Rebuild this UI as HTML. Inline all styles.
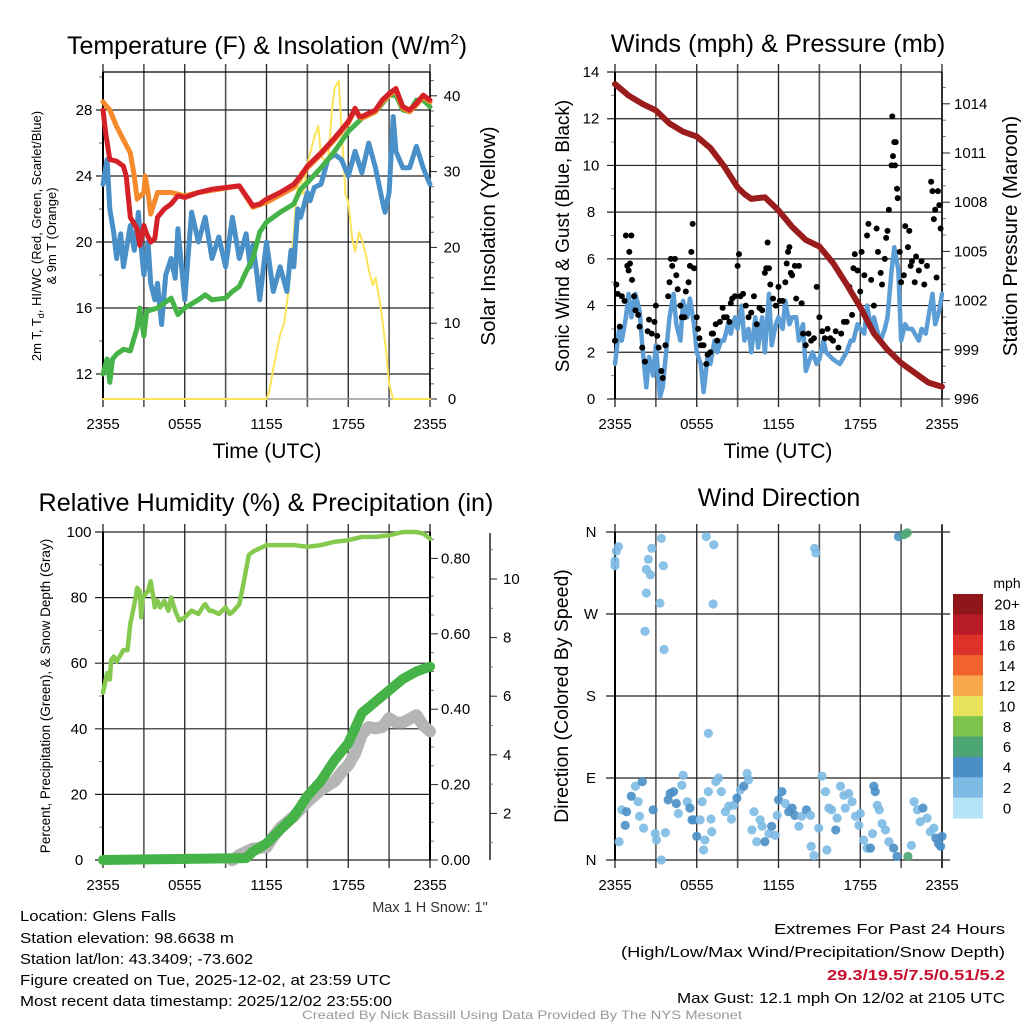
<!DOCTYPE html>
<html><head><meta charset="utf-8"><style>
html,body{margin:0;padding:0;background:#fff;}
svg{display:block;font-family:"Liberation Sans",sans-serif;}
</style></head><body>
<svg id="fig" width="1024" height="1024" viewBox="0 0 1024 1024" xmlns="http://www.w3.org/2000/svg">
<rect x="0" y="0" width="1024" height="1024" fill="#fff"/>
<text x="267" y="54" font-size="25" text-anchor="middle">Temperature (F) &amp; Insolation (W/m<tspan dy="-10" font-size="15">2</tspan><tspan dy="10">)</tspan></text>
<text x="778" y="52" font-size="25.3" text-anchor="middle">Winds (mph) &amp; Pressure (mb)</text>
<text x="266" y="511" font-size="25.2" text-anchor="middle">Relative Humidity (%) &amp; Precipitation (in)</text>
<text x="779" y="506" font-size="25" text-anchor="middle">Wind Direction</text>
<text x="267" y="458" font-size="21" text-anchor="middle">Time (UTC)</text>
<text x="778" y="458" font-size="21" text-anchor="middle">Time (UTC)</text>
<text transform="translate(41,236) rotate(-90)" font-size="13" text-anchor="middle">2m T, T<tspan dy="3" font-size="9">d</tspan><tspan dy="-3">, HI/WC (Red, Green, Scarlet/Blue)</tspan></text>
<text transform="translate(56,236) rotate(-90)" font-size="13" text-anchor="middle">&amp; 9m T (Orange)</text>
<text transform="translate(495,236) rotate(-90)" font-size="20.5" text-anchor="middle">Solar Insolation (Yellow)</text>
<text transform="translate(569,236) rotate(-90)" font-size="19" text-anchor="middle">Sonic Wind &amp; Gust (Blue, Black)</text>
<text transform="translate(1017,236) rotate(-90)" font-size="20.5" text-anchor="middle">Station Pressure (Maroon)</text>
<text transform="translate(50,696) rotate(-90)" font-size="13.5" text-anchor="middle">Percent, Precipitation (Green), &amp; Snow Depth (Gray)</text>
<text transform="translate(568,696) rotate(-90)" font-size="19.5" text-anchor="middle">Direction (Colored By Speed)</text>
<text x="1007" y="588" font-size="14" text-anchor="middle">mph</text>
<text x="430" y="912" font-size="14.5" text-anchor="middle" fill="#333">Max 1 H Snow: 1"</text>
<g font-size="15">
<text x="20" y="921" textLength="156" lengthAdjust="spacingAndGlyphs">Location: Glens Falls</text>
<text x="20" y="943" textLength="214" lengthAdjust="spacingAndGlyphs">Station elevation: 98.6638 m</text>
<text x="20" y="964" textLength="233" lengthAdjust="spacingAndGlyphs">Station lat/lon: 43.3409; -73.602</text>
<text x="20" y="985" textLength="371" lengthAdjust="spacingAndGlyphs">Figure created on Tue, 2025-12-02, at 23:59 UTC</text>
<text x="20" y="1006" textLength="372" lengthAdjust="spacingAndGlyphs">Most recent data timestamp: 2025/12/02 23:55:00</text>
</g>
<g font-size="15" text-anchor="end">
<text x="1005" y="934" textLength="231" lengthAdjust="spacingAndGlyphs">Extremes For Past 24 Hours</text>
<text x="1005" y="957" textLength="384" lengthAdjust="spacingAndGlyphs">(High/Low/Max Wind/Precipitation/Snow Depth)</text>
<text x="1005" y="980" font-weight="bold" fill="#c8102e" textLength="178" lengthAdjust="spacingAndGlyphs">29.3/19.5/7.5/0.51/5.2</text>
<text x="1005" y="1003" textLength="328" lengthAdjust="spacingAndGlyphs">Max Gust: 12.1 mph On 12/02 at 2105 UTC</text>
</g>
<text x="522" y="1019" font-size="12" fill="#999" text-anchor="middle" textLength="440" lengthAdjust="spacingAndGlyphs">Created By Nick Bassill Using Data Provided By The NYS Mesonet</text>
</svg>
<script>
// ---------- data ----------
const timeLabels = ["2355","0555","1155","1755","2355"];
// Panel 1
const tT = [0,0.2,0.5,1,1.5,1.7,2,2.5,2.7,3,3.2,3.5,3.8,4,4.5,5,5.5,6,7,8,9,10,10.5,11,11.5,12,13,14,14.5,15,16,17,18,18.5,18.8,19,20,20.5,21,21.5,22,22.5,23,23.5,24];
const tempRed = [28,26.6,25,24.9,24.6,24,21.5,20.8,19.8,21,20.5,20,20.2,21.5,22,22.3,22.8,22.7,23,23.2,23.3,23.4,22.8,22.2,22.3,22.6,23,23.5,24,24.6,25.4,26.3,27.3,28.1,27.6,27.6,28,28.6,29,29.3,28.2,28,28.4,28.9,28.6];
const tO = [0,0.5,1,1.5,2,2.3,2.5,3,3.1,3.3,3.5,4,5,6,7,10,11,12,14,14.5,15,16,17,18,18.5,19,20,20.5,21,21.5,22,22.5,23,23.5,24];
const temp9m = [28.5,28,27,26.2,25.4,24,22.6,23,24,23,21.7,23,23,22.8,23,23.4,22.1,22.4,23.3,23.9,24.5,25.3,26.2,27.2,28,27.5,27.9,28.5,28.9,29.2,28.1,27.9,28.3,28.8,28.5];
const tG = [0,0.3,0.5,0.7,1,1.5,2,2.5,2.7,3,3.2,4,4.5,5,5.5,6,7,7.5,8,9,9.5,10,10.5,11,11.5,12,13,14,14.5,15,16,17,18,19,20,21,21.5,22,22.5,23,23.5,24];
const dewpoint = [12,12.9,11.5,12.9,13.2,13.5,13.4,14.8,16,14.3,15.8,16,16.3,16.6,15.6,16,16.5,16.8,16.5,16.6,17,17.3,18.2,19,20.6,21.2,21.8,22.3,23.2,23.6,24.5,25.5,26.7,27.5,27.9,28.9,28.9,28,27.9,28.6,28.6,28.2];
const tB = [0,0.3,0.5,0.8,1,1.3,1.5,2,2.3,2.6,2.8,3,3.3,3.5,3.8,4,4.3,4.6,5,5.3,5.5,6,6.3,6.5,7,7.5,8,8.5,9,9.5,10,10.5,10.8,11,11.3,11.5,12,12.5,13,13.5,13.8,14,14.3,14.5,15,15.2,15.5,16,16.5,17,17.5,18,18.5,19,19.5,20,20.5,20.7,21,21.3,21.5,22,22.5,23,23.5,24];
const windChill = [23.5,25,22,20.5,19,20.5,18.5,21,19.5,21.8,19.6,18,20,17.5,16.5,17.5,15,18,19,17.8,20.8,16.5,19.7,21.8,20,21.5,19,20.3,18.5,21.5,19,20.5,18.5,19.8,18,16.5,20,17,18.5,17,19.5,18.5,22,21.5,23,22.5,23.3,23.5,25,25.3,25,24,25.5,24.2,26,24.5,22.5,21.8,23,27.6,25.5,24.5,24.5,25.8,24.5,23.5];
const tS = [0,12,12.2,12.5,13,13.3,13.6,14,14.2,14.5,14.7,15,15.5,15.8,16,16.5,16.8,17,17.3,17.5,17.8,18,18.3,18.5,18.8,19,19.3,19.5,19.8,20,20.3,20.5,20.8,21,21.3,24];
const insolation = [0,0,1,4,8.5,10,14,22,27,30,27,31,34.5,36,32,31,38,41,42,36,27,26,21,19.5,22,21,19,17,15,16,13,10.5,6,2,0,0];
const tempTicks = [12,16,20,24,28];
const solarTicks = [0,10,20,30,40];
// Panel 2
const tP = [0,1,2,3,4,5,6,7,8,9,9.5,10,11,12,13,14,15,16,17,18,19,20,21,22,23,24];
const pressure = [1015.2,1014.5,1014.0,1013.6,1012.8,1012.3,1012.0,1011.3,1010.2,1008.9,1008.5,1008.2,1008.3,1007.5,1006.5,1005.7,1005.3,1004.3,1003.0,1001.6,1000.0,999.0,998.2,997.6,997.0,996.75];
const tW = [0,0.3,0.5,0.8,1,1.2,1.5,1.8,2,2.3,2.5,2.8,3,3.3,3.5,3.8,4,4.3,4.5,4.8,5,5.3,5.5,5.8,6,6.3,6.5,6.8,7,7.3,7.5,7.8,8,8.3,8.5,8.8,9,9.3,9.5,9.8,10,10.3,10.5,10.8,11,11.3,11.5,11.8,12,12.3,12.5,12.8,13,13.3,13.5,13.8,14,14.3,14.5,14.8,15,15.3,15.5,16,16.5,17,17.3,17.5,17.8,18,18.3,18.5,18.8,19,19.3,19.5,19.8,20,20.3,20.5,20.8,21,21.3,21.5,21.8,22,22.3,22.5,22.8,23,23.3,23.5,23.8,24];
const sonicWind = [1.5,3,2.5,3.5,4.5,3.5,4.5,3.8,2.3,0.5,1.8,1,2.3,0.1,0.5,2.3,3.5,4.5,3.2,2.5,4.2,3.5,4.3,3.2,2,1.5,0.3,1.8,1.5,2.5,2,2.5,2.5,3.2,2.8,3.5,3,4,2.5,3,2,3.5,2.2,3.5,2,4.5,2.3,3.2,3.5,3,4.2,3.2,3.5,3.5,2.5,3.2,1.2,1.7,2,1.5,1.7,2.5,2,1.7,1.5,2,2.5,2.5,3.2,3,2.8,4,3,3.5,2.8,2.5,3,3.5,5.5,6.5,5.5,2.5,3.2,3,3,2.8,2.5,3,2.8,3.5,4.5,3.2,3.8,4.5];
const gustT = [0,0.1,0.2,0.35,0.5,0.7,0.8,0.9,1.0,1.05,1.1,1.2,1.25,1.4,1.5,1.7,1.8,2.0,2.2,2.4,2.5,2.7,2.9,3.0,3.1,3.2,3.4,3.5,3.7,3.9,4.0,4.1,4.2,4.4,4.5,4.6,4.8,4.9,5.1,5.2,5.4,5.5,5.6,5.7,5.8,6.0,6.1,6.2,6.3,6.5,6.7,6.8,7.0,7.1,7.2,7.4,7.5,7.7,7.9,8.0,8.2,8.4,8.5,8.6,8.8,9.0,9.1,9.2,9.4,9.6,9.8,10.0,10.2,10.4,10.6,10.8,11.0,11.1,11.2,11.3,11.4,11.6,11.8,12.0,12.1,12.3,12.5,12.6,12.7,12.8,12.9,13.0,13.2,13.3,13.5,13.7,13.8,14.0,14.2,14.4,14.6,14.8,15.0,15.2,15.4,15.6,15.8,16.0,16.2,16.4,16.6,16.8,17.0,17.2,17.4,17.5,17.6,17.8,18.0,18.1,18.3,18.5,18.6,18.8,19.0,19.2,19.3,19.5,19.6,19.8,19.9,20.0,20.1,20.3,20.35,20.4,20.5,20.55,20.6,20.7,20.75,20.9,21.0,21.2,21.3,21.5,21.6,21.7,21.8,22.0,22.1,22.3,22.5,22.7,22.9,23.2,23.3,23.4,23.5,23.6,23.7,23.8,23.9];
const gustV = [2.5,4.9,4.5,3.1,4.4,4.2,7.0,5.7,5.5,6.3,5.8,7.0,5.1,4.4,3.8,3.6,3.1,2.2,1.6,2.9,3.4,2.8,3.3,4.0,2.7,2.2,1.2,0.9,2.3,4.4,5.0,6.0,5.7,6.0,5.3,4.7,4.0,3.5,3.5,4.6,5.0,5.7,6.3,7.5,5.6,3.5,3.0,2.6,2.3,2.3,1.5,1.9,2.0,2.8,2.8,3.2,2.5,3.3,3.9,3.5,3.5,3.3,4.1,4.3,4.4,5.7,6.2,4.4,4.5,4.0,3.5,3.7,4.4,3.2,3.9,3.8,5.4,5.6,6.7,5.6,4.9,4.3,4.0,4.8,4.2,4.2,5.0,5.8,6.3,6.5,5.4,5.3,5.7,4.3,5.7,4.1,2.8,2.3,2.8,2.5,2.6,4.8,3.5,2.9,2.6,3.0,2.6,2.5,2.9,2.2,2.8,3.3,3.3,4.8,3.6,5.6,6.2,5.5,4.6,6.3,5.3,7.0,7.5,5.1,4.0,7.3,6.3,5.4,4.9,6.0,6.9,7.2,8.1,10.0,12.1,10.4,11.0,10.0,11.0,9.0,8.6,6.3,5.0,5.3,7.4,6.5,7.2,5.7,5.9,5.0,6.1,5.5,5.9,4.9,5.7,9.3,8.9,7.7,8.1,5.2,8.9,8.3,7.3];
const windTicks = [0,2,4,6,8,10,12,14];
const pressTicks = [996,999,1002,1005,1008,1011,1014];
// Panel 3
const tRH = [0,0.3,0.5,0.6,0.8,1,1.5,1.8,2,2.2,2.4,2.5,2.7,2.8,2.9,3.3,3.5,3.7,3.8,4,4.2,4.5,4.8,5,5.3,5.6,6,6.5,7,7.3,7.5,7.8,8,8.5,9,9.3,9.6,10,10.3,10.7,11,11.5,12,13,14,15,16,17,18,19,20,21,22,23,23.5,24];
const relHum = [51,57,55,61,62,60.5,64,64,72,76,80,83,82,74,80,82,85,80,77,79,77,79,76,80,76,73,74,76,75,77,78,76,76,75,77,75,76,78,84,93,94,95,96,96,96,95.5,96,97,97.5,98.5,98.5,99,100,100,99.5,98];
const tPr = [0,10.5,11,12,13,14,15,16,17,18,19,20,21,22,23,24];
const precip = [0,0.005,0.022,0.044,0.08,0.115,0.17,0.21,0.265,0.31,0.39,0.42,0.45,0.48,0.5,0.513];
const tSn = [9.5,10,11,12,12.5,13,14,15,16,17,17.5,18,18.5,19,19.5,20,20.5,21,21.5,22,23,23.5,24];
const snowDepth = [0.4,0.58,0.8,0.85,1.2,1.5,1.9,2.4,2.8,3.1,3.4,3.65,4.05,4.7,4.95,4.9,4.95,5.25,5.1,5.1,5.35,5.0,4.8];
const rhTicks = [0,20,40,60,80,100];
const precipTicks = [0,0.2,0.4,0.6,0.8];
const precipLabels = ["0.00","0.20","0.40","0.60","0.80"];
const snowTicks = [2,4,6,8,10];
// Panel 4
const dirT = [0.25,0.1,0,0,0.3,0.5,0.75,0.85,1.2,1.5,1.7,1.8,2.0,2.1,2.2,2.3,2.3,2.45,2.6,2.7,2.8,2.95,3.05,3.3,3.4,3.4,3.55,3.6,3.7,3.9,4.05,4.3,4.5,4.65,4.9,5.0,5.3,5.5,5.65,5.8,6.0,6.25,6.4,6.5,6.6,6.7,6.85,6.85,7.05,7.1,7.2,7.25,7.4,7.6,7.8,8.1,8.35,8.55,8.7,8.95,9.2,9.45,9.7,9.8,10.05,10.2,10.4,10.65,10.8,11.0,11.3,11.5,11.75,11.9,12.0,12.25,12.5,12.75,13.0,13.2,13.5,13.7,14.05,14.35,14.4,14.6,14.65,14.75,14.95,15.2,15.45,15.55,15.7,15.9,16.2,16.3,16.55,16.8,16.9,17.15,17.4,17.65,17.9,18.0,18.25,18.5,18.75,18.9,19.0,19.1,19.25,19.4,19.6,19.85,20.1,20.45,20.7,20.8,21.2,21.45,21.5,21.75,21.95,22.2,22.4,22.6,22.9,23.15,23.4,23.55,23.75,24.0,23.9];
const dirDeg = [344,339,328,323,20,55,38,53,70,81,64,48,86,35,251,293,319,330,313,342,55,29,22,282,353,0,323,231,30,66,73,75,62,51,82,93,64,57,44,44,26,44,64,11,22,355,139,75,45,31,281,346,86,90,75,53,59,45,60,68,77,81,95,88,33,53,20,44,37,20,29,37,27,49,66,75,62,53,57,49,37,48,55,49,15,5,342,337,35,92,75,11,57,55,33,46,81,71,57,73,64,48,38,51,22,13,13,29,81,75,60,55,40,33,20,13,4,355,357,359,4,16,64,55,42,57,46,31,35,24,18,26,15];
const dirSpeed = [3,3,2,3,3,3,5,5,5,3,3,3,5,2,2,2,2,3,2,2,5,2,3,2,2,2,2,2,2,5,5,5,5,3,3,3,3,5,5,5,5,3,3,3,2,2,2,2,2,2,2,2,3,3,3,3,3,3,3,5,3,5,3,3,3,3,3,3,3,5,3,5,3,3,5,5,3,5,5,5,3,3,5,3,3,3,2,2,2,3,3,2,3,3,5,3,3,3,3,3,3,3,3,3,3,3,5,3,5,5,3,3,3,3,3,5,5,5,7,7,7,3,3,3,3,5,3,3,3,5,5,5,5];
const dirTicks = [0,90,180,270,360];
const dirLabels = ["N","E","S","W","N"];
const cbLabels = ["20+","18","16","14","12","10","8","6","4","2","0"];
const cbColors = ["#8f1619","#b81c24","#dc3229","#f0632c","#f7a84a","#e8e15a","#7cc24b","#4ba673","#4a8fc6","#7dbae4","#b5e3f8"];

// ---------- scales ----------
const X1 = t => 103 + t * 327 / 24;
const X2 = t => 615 + t * 327 / 24;
const yTemp = v => 110 + (28 - v) * 16.5;
const ySolar = v => 399 - v * 7.58;
const yWind = v => 399 - v * 327 / 14;
const yPress = p => 399 - (p - 996) * 16.4;
const yRH = v => 860 - v * 3.28;
const yPrecip = v => 860 - v * 377;
const ySnow = v => 872 - v * 29.3;
const yDir = d => 860 - d * 328 / 360;
function speedColor(s){ const i = Math.min(10, Math.floor(s / 2)); return cbColors[10 - i]; }

const NS = "http://www.w3.org/2000/svg";
const svg = document.getElementById("fig");
function mk(tag, attrs, parent){
  const el = document.createElementNS(NS, tag);
  for (const k in attrs) el.setAttribute(k, attrs[k]);
  (parent || svg).appendChild(el);
  return el;
}
function line(x1,y1,x2,y2,stroke,w,parent){
  return mk("line",{x1:x1,y1:y1,x2:x2,y2:y2,stroke:stroke,"stroke-width":w},parent);
}
function pathFrom(ts, vs, xf, yf){
  return ts.map((t,i)=>(i?"L":"M")+xf(t).toFixed(1)+","+yf(vs[i]).toFixed(1)).join("");
}

// ---------- panel frames ----------
const panels = [
  {x0:103,x1:430,y0:72,y1:399,name:"temp-panel",X:X1},
  {x0:615,x1:942,y0:72,y1:399,name:"wind-panel",X:X2},
  {x0:103,x1:430,y0:532,y1:860,name:"rh-panel",X:X1},
  {x0:615,x1:942,y0:532,y1:860,name:"wdir-panel",X:X2}
];
panels.forEach(p=>{
  const g = mk("g",{});
  
  
  for (let h=0; h<=24; h+=3){
    const x = p.X(h);
    const l = line(x, p.y0-8, x, p.y1+8, (h%6===0)?"#222":"#555", (h%6===0)?1.3:1.6, g);
    
    
  }
  timeLabels.forEach((lab,i)=>{
    const t = mk("text",{x:p.X(i*6),y:p.y1+30,"font-size":15,"text-anchor":"middle"},g);
    t.textContent = lab;
    
    
  });
});

// panel 1 axes
(function(){
  const g = mk("g",{});
  
  
  for (let v=11; v<=30; v++){
    const y = yTemp(v);
    const major = tempTicks.includes(v);
    if (major){
      const l = line(96, y, 430, y, "#222", 1.2, g);
      
      
      const t = mk("text",{x:84,y:y+5,"font-size":15,"text-anchor":"middle"},g);
      t.textContent = v;
      
      
    } else if (v%2===0){
      const l = line(99, y, 103, y, "#666", 1, g);
      
      
    }
  }
  for (let v=0; v<=42; v+=2){
    const y = ySolar(v);
    const major = solarTicks.includes(v);
    const l = line(430, y, major?437:434, y, major?"#222":"#666", 1, g);
    
    
    if (major){
      const t = mk("text",{x:452,y:y+5,"font-size":15,"text-anchor":"middle"},g);
      t.textContent = v;
      
      
    }
  }
  const b = line(103,399,430,399,"#999",1.5,g);
  
  
  const l1 = line(103,72,103,399,"#000",2,g);
  
  
  const l2 = line(430,72,430,399,"#000",1.5,g);
  
  
  const tp = line(103,72,430,72,"#000",1.2,g);
  
  
})();

// panel 2 axes
(function(){
  const g = mk("g",{});
  
  
  windTicks.forEach(v=>{
    const y = yWind(v);
    const l = line(607, y, 942, y, "#222", 1.2, g);
    
    
    const t = mk("text",{x:591,y:y+5,"font-size":15,"text-anchor":"middle"},g);
    t.textContent = v;
    
    
  });
  for (let v=1; v<14; v+=2){
    const l = line(611, yWind(v), 615, yWind(v), "#888", 1, g);
    
    
  }
  for (let p=996; p<=1016; p++){
    const y = yPress(p);
    if (y < 72) continue;
    const major = pressTicks.includes(p);
    const l = line(942, y, major?950:946, y, major?"#222":"#777", 1, g);
    
    
    if (major){
      const t = mk("text",{x:954,y:y+5,"font-size":15},g);
      t.textContent = p;
      
      
    }
  }
  const l1 = line(615,72,615,399,"#000",2,g);
  
  
  const l2 = line(942,72,942,399,"#000",1.5,g);
  
  
})();

// panel 3 axes
(function(){
  const g = mk("g",{});
  
  
  rhTicks.forEach(v=>{
    const y = yRH(v);
    const l = line(95, y, 430, y, "#222", 1.2, g);
    
    
    const t = mk("text",{x:79,y:y+5,"font-size":15,"text-anchor":"middle"},g);
    t.textContent = v;
    
    
  });
  for (let v=10; v<100; v+=20){
    const l = line(99, yRH(v), 103, yRH(v), "#888", 1, g);
    
    
  }
  for (let k=0; k<=17; k++){
    const v = k*0.05;
    const y = yPrecip(v);
    const major = k%4===0;
    const l = line(430, y, major?438:434, y, major?"#222":"#777", 1, g);
    
    
  }
  precipTicks.forEach((v,i)=>{
    const t = mk("text",{x:441,y:yPrecip(v)+5,"font-size":15},g);
    t.textContent = precipLabels[i];
    
    
  });
  const sa = line(490,533,490,860,"#222",1.5,g);
  
  
  for (let v=1; v<=11; v++){
    const y = ySnow(v);
    if (y < 533) continue;
    const major = snowTicks.includes(v);
    const l = line(490, y, major?497:493, y, major?"#222":"#777", 1, g);
    
    
    if (major){
      const t = mk("text",{x:503,y:y+5,"font-size":15},g);
      t.textContent = v;
      
      
    }
  }
  const l1 = line(103,532,103,860,"#000",2,g);
  
  
  const l2 = line(430,532,430,860,"#000",2,g);
  
  
})();

// panel 4 axes
(function(){
  const g = mk("g",{});
  
  
  dirTicks.forEach((d,i)=>{
    const y = yDir(d);
    const l = line(606, y, 950, y, "#222", 1.2, g);
    
    
    const t = mk("text",{x:591,y:y+5,"font-size":15,"text-anchor":"middle"},g);
    t.textContent = dirLabels[i];
    
    
  });
  const l1 = line(615,532,615,860,"#000",2,g);
  
  
  const l2 = line(942,525,942,868,"#333",2,g);
  
  
  // colorbar
  const cb = mk("g",{});
  
  
  const h = (818-594)/11;
  cbColors.forEach((c,i)=>{
    const r = mk("rect",{x:953,y:594+i*h,width:30,height:h+0.5,fill:c},cb);
    
    
    const t = mk("text",{x:1007,y:594+i*h+h/2+5.5,"font-size":15,"text-anchor":"middle"},cb);
    t.textContent = cbLabels[i];
    
    
  });
})();

// ---------- series ----------
function series(d, color, w, name){
  const p = mk("path",{d:d,fill:"none",stroke:color,"stroke-width":w,"stroke-linejoin":"round","stroke-linecap":"round"});
  
  
  return p;
}
series(pathFrom(tS, insolation, X1, ySolar), "#fde35a", 2, "insolation-line");
series(pathFrom(tB, windChill, X1, yTemp), "#4a90c8", 5, "wind-chill-line");
series(pathFrom(tG, dewpoint, X1, yTemp), "#45b348", 5, "dewpoint-line");
series(pathFrom(tO, temp9m, X1, yTemp), "#f48a2c", 5, "temp-9m-line");
series(pathFrom(tT, tempRed, X1, yTemp), "#d42027", 5, "temp-2m-line");

series(pathFrom(tW, sonicWind, X2, yWind), "#5b9dd4", 4.5, "sonic-wind-line");
const gg = mk("g",{});


gustT.forEach((t,i)=>{
  const c = mk("circle",{cx:X2(t),cy:yWind(gustV[i]),r:3,fill:"#000"},gg);
  
  
});
series(pathFrom(tP, pressure, X2, yPress), "#9b1c1c", 6, "pressure-line");

series(pathFrom(tRH, relHum, X1, yRH), "#86c94f", 4.5, "rh-line");
series(pathFrom(tSn, snowDepth, X1, ySnow), "#b5b5b5", 12, "snow-depth-line");
series(pathFrom(tPr, precip, X1, yPrecip), "#45b348", 10, "precip-line");

const dg = mk("g",{});


dirT.forEach((t,i)=>{
  const c = mk("circle",{cx:X2(t),cy:yDir(dirDeg[i]),r:4.6,fill:speedColor(dirSpeed[i]),"fill-opacity":0.9},dg);
  
  
});
</script>
</body></html>
